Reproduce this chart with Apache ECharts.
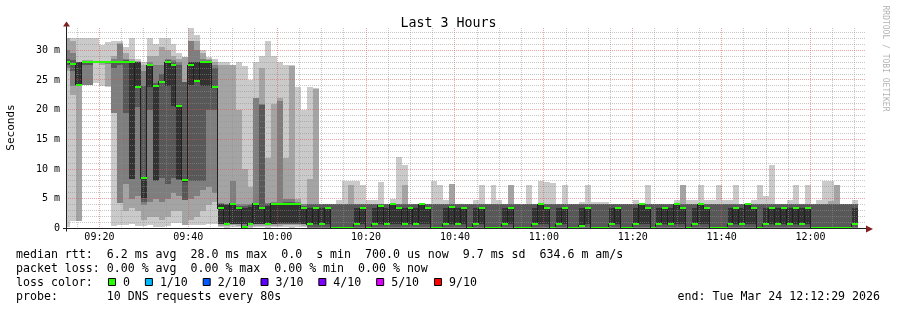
<!DOCTYPE html>
<html>
<head>
<meta charset="utf-8">
<script src="https://cdn.jsdelivr.net/npm/echarts@6/dist/echarts.min.js"></script>
<style>html,body{margin:0;padding:0;background:#fff}#c{width:897px;height:310px}</style>
</head>
<body>
<div id="c"></div>
<script>
// ---------------- data ----------------
const windowStart = '09:12:29';
const windowEnd = '12:12:29';
const firstBinStart = '09:12:00';
const binSeconds = 80;
const yMax = 34;

// ten sorted ping times (ms) per 80 s step, smallest (ping1) to largest (ping10)
const ping1 = [
 0.3,1.2,1.2,24.2,24.2,24.5,24.0,23.9,0.5,0.6,
 0.6,0.8,0.5,0.5,0.6,0.3,0.3,0.5,1.0,1.0,
 0.6,0.6,0.6,0.6,0.8,0.8,0.2,0.1,0.2,0.2,
 0.1,0.1,0.2,0.2,0.1,0.2,0.2,0.3,0.1,0.2,
 0.2,0.05,0.05,0.05,0.05,0.05,0.05,0.05,0.05,0.05,
 0.05,0.05,0.05,0.05,0.05,0.05,0.05,0.05,0.05,0.05,
 0.05,0.05,0.05,0.05,0.05,0.05,0.05,0.05,0.05,0.05,
 0.05,0.05,0.05,0.05,0.05,0.05,0.05,0.05,0.05,0.05,
 0.05,0.05,0.05,0.05,0.05,0.05,0.05,0.05,0.05,0.05,
 0.05,0.05,0.05,0.05,0.05,0.05,0.05,0.05,0.05,0.05,
 0.05,0.05,0.05,0.05,0.05,0.05,0.05,0.05,0.05,0.05,
 0.05,0.05,0.05,0.05,0.05,0.05,0.05,0.05,0.05,0.05,
 0.05,0.05,0.05,0.05,0.05,0.05,0.05,0.05,0.05,0.05,
 0.05,0.05,0.05,0.05
];
const ping2 = [
 26.5,22.5,1.3,24.2,24.2,27.8,27.6,24.0,19.4,4.3,
 3.0,3.5,3.0,1.5,2.0,2.0,1.5,2.0,3.0,3.0,
 0.6,1.5,2.0,3.0,4.0,4.5,0.5,0.5,0.6,0.5,
 0.2,0.3,0.5,0.5,0.4,0.5,0.5,0.6,0.6,0.6,
 0.5,0.1,0.1,0.1,0.1,0.1,0.1,0.1,0.1,0.1,
 0.1,0.1,0.1,0.1,0.1,0.1,0.1,0.1,0.1,0.1,
 0.1,0.1,0.1,0.1,0.1,0.1,0.1,0.1,0.1,0.1,
 0.1,0.1,0.1,0.1,0.1,0.1,0.1,0.1,0.1,0.1,
 0.1,0.1,0.1,0.1,0.1,0.1,0.1,0.1,0.1,0.1,
 0.1,0.1,0.1,0.1,0.1,0.1,0.1,0.1,0.1,0.1,
 0.1,0.1,0.1,0.1,0.1,0.1,0.1,0.1,0.1,0.1,
 0.1,0.1,0.1,0.1,0.1,0.1,0.1,0.1,0.1,0.1,
 0.1,0.1,0.1,0.1,0.1,0.1,0.1,0.1,0.1,0.1,
 0.1,0.1,0.1,0.1
];
const ping3 = [
 27.0,24.0,24.1,24.2,24.2,27.9,27.8,27.7,19.5,4.3,
 7.5,5.0,5.5,4.0,4.5,5.0,4.5,5.0,6.0,5.5,
 4.8,5.0,5.5,6.5,7.0,6.0,0.7,0.7,0.7,0.7,
 0.5,0.6,0.7,0.7,0.6,0.7,0.7,0.7,0.7,0.7,
 0.7,0.15,0.15,0.15,0.15,0.15,0.15,0.15,0.15,0.15,
 0.15,0.15,0.15,0.15,0.15,0.15,0.15,0.15,0.15,0.15,
 0.15,0.15,0.15,0.15,0.15,0.15,0.15,0.15,0.15,0.15,
 0.15,0.15,0.15,0.15,0.15,0.15,0.15,0.15,0.15,0.15,
 0.15,0.15,0.15,0.15,0.15,0.15,0.15,0.15,0.15,0.15,
 0.15,0.15,0.15,0.15,0.15,0.15,0.15,0.15,0.15,0.15,
 0.15,0.15,0.15,0.15,0.15,0.15,0.15,0.15,0.15,0.15,
 0.15,0.15,0.15,0.15,0.15,0.15,0.15,0.15,0.15,0.15,
 0.15,0.15,0.15,0.15,0.15,0.15,0.15,0.15,0.15,0.15,
 0.15,0.15,0.15,0.15
];
const ping4 = [
 27.5,26.5,24.2,27.5,27.5,27.9,27.9,27.8,27.0,27.5,
 19.5,8.3,20.5,4.5,20.0,8.0,8.5,7.5,8.5,8.2,
 4.8,8.0,8.0,8.0,20.0,20.0,0.8,0.8,0.75,0.75,
 0.7,0.7,0.8,0.8,0.8,0.8,0.8,0.8,0.8,0.8,
 0.75,0.2,0.2,0.2,0.2,0.2,0.2,0.2,0.2,0.2,
 0.2,0.2,0.2,0.2,0.2,0.2,0.2,0.2,0.2,0.2,
 0.2,0.2,0.2,0.2,0.2,0.2,0.2,0.2,0.2,0.2,
 0.2,0.2,0.2,0.2,0.2,0.2,0.2,0.2,0.2,0.2,
 0.2,0.2,0.2,0.2,0.2,0.2,0.2,0.2,0.2,0.2,
 0.2,0.2,0.2,0.2,0.2,0.2,0.2,0.2,0.2,0.2,
 0.2,0.2,0.2,0.2,0.2,0.2,0.2,0.2,0.2,0.2,
 0.2,0.2,0.2,0.2,0.2,0.2,0.2,0.2,0.2,0.2,
 0.2,0.2,0.2,0.2,0.2,0.2,0.2,0.2,0.2,0.2,
 0.2,0.2,0.2,0.2
];
const ping5 = [
 27.8,27.5,24.2,27.9,27.9,28.0,28.0,27.9,27.8,27.8,
 27.8,8.4,23.8,5.1,23.9,8.1,24.5,24.0,20.6,8.3,
 7.8,24.2,24.8,24.0,24.0,23.6,0.8,0.8,0.8,0.8,
 0.75,0.8,0.8,0.8,0.8,0.8,0.9,0.9,0.9,0.9,
 0.8,0.75,0.75,0.75,0.75,0.2,0.2,0.2,0.2,0.75,
 0.75,0.2,0.75,0.75,0.75,0.75,0.75,0.75,0.75,0.75,
 0.75,0.75,0.2,0.2,0.75,0.75,0.75,0.75,0.2,0.75,
 0.75,0.2,0.2,0.2,0.75,0.75,0.2,0.2,0.2,0.75,
 0.75,0.75,0.2,0.75,0.75,0.2,0.2,0.5,0.75,0.2,
 0.2,0.2,0.75,0.75,0.2,0.2,0.75,0.75,0.75,0.2,
 0.75,0.75,0.75,0.75,0.75,0.2,0.75,0.75,0.75,0.2,
 0.2,0.2,0.75,0.75,0.75,0.75,0.75,0.2,0.75,0.75,
 0.75,0.75,0.75,0.75,0.75,0.75,0.2,0.2,0.2,0.2,
 0.2,0.2,0.2,0.75
];
const ping6 = [
 28.2,27.9,28.1,28.1,28.1,28.0,28.0,28.1,28.1,28.1,
 28.1,28.1,28.1,8.6,27.5,24.0,24.8,28.1,27.5,20.6,
 8.3,28.0,28.0,28.1,28.1,23.9,4.2,4.0,4.2,3.4,
 3.4,3.6,4.2,3.4,3.8,4.2,4.2,4.2,4.2,4.2,
 3.4,3.4,3.4,3.4,3.4,0.25,0.25,0.25,0.25,3.4,
 3.4,0.25,3.4,3.8,3.4,4.1,3.4,3.4,3.4,3.4,
 4.1,3.4,0.25,0.25,3.4,3.6,3.4,3.4,0.25,3.4,
 3.4,0.25,0.25,0.25,3.4,3.4,0.25,0.25,0.25,3.4,
 4.1,3.4,0.25,3.4,3.4,0.25,0.25,3.4,3.4,0.25,
 0.25,0.25,3.4,3.4,0.25,0.25,3.4,4.1,3.4,0.25,
 3.4,3.4,3.4,4.1,3.4,0.25,3.4,4.1,3.4,0.25,
 0.25,0.25,3.4,3.4,3.4,4.1,3.4,0.25,3.4,3.4,
 3.4,3.4,3.4,3.4,3.4,3.4,0.25,0.25,0.25,0.25,
 0.25,0.25,0.25,3.4
];
const ping7 = [
 28.6,28.3,28.1,28.1,28.1,28.1,28.1,28.1,28.2,28.2,
 28.3,28.1,28.1,24.0,27.6,24.5,26.0,28.3,28.0,27.5,
 24.7,28.0,28.1,28.1,28.1,27.0,4.2,4.2,4.3,3.8,
 3.8,4.0,4.3,20.8,4.2,4.3,4.3,4.4,4.4,4.3,
 3.8,4.15,4.15,4.15,4.15,4.15,4.15,4.15,4.15,4.15,
 4.15,4.15,4.15,4.15,4.15,4.15,4.15,4.15,4.15,4.15,
 4.15,4.15,4.15,4.15,4.15,4.15,4.15,4.15,4.15,4.15,
 4.15,4.15,4.15,4.15,4.15,4.15,4.15,4.15,4.15,4.15,
 4.15,4.15,4.15,4.15,4.15,4.15,4.15,4.15,4.15,4.15,
 4.15,4.15,4.15,4.15,4.15,4.15,4.15,4.15,4.15,4.15,
 4.15,4.15,4.15,4.15,4.15,4.15,4.15,4.15,4.15,4.15,
 4.15,4.15,4.15,4.15,4.15,4.15,4.15,4.15,4.15,4.15,
 4.15,4.15,4.15,4.15,4.15,4.15,4.15,4.15,4.15,4.15,
 4.15,4.15,4.15,4.15
];
const ping8 = [
 30.0,29.5,28.1,28.2,28.2,28.1,28.1,28.1,28.5,31.0,
 28.5,28.2,28.1,26.5,28.0,27.5,27.5,28.5,28.3,28.1,
 24.7,31.5,30.0,28.5,28.3,27.5,4.3,4.2,8.0,4.2,
 4.2,4.2,21.9,21.0,4.3,4.5,21.4,5.0,5.0,4.5,
 4.2,4.2,4.2,4.2,4.2,4.2,4.2,4.2,4.2,4.2,
 4.2,4.2,4.2,4.2,4.2,4.2,4.2,4.2,4.2,4.2,
 4.2,4.2,4.2,4.2,4.2,4.2,4.2,4.2,4.2,4.2,
 4.2,4.2,4.2,4.2,4.2,4.2,4.2,4.2,4.2,4.2,
 4.2,4.2,4.2,4.2,4.2,4.2,4.2,4.2,4.2,4.2,
 4.2,4.2,4.2,4.2,4.2,4.2,4.2,4.2,4.2,4.2,
 4.2,4.2,4.2,4.2,4.2,4.2,4.2,4.2,4.2,4.2,
 4.2,4.2,4.2,4.2,4.2,4.2,4.2,4.2,4.2,4.2,
 4.2,4.2,4.2,4.2,4.2,4.2,4.2,4.2,4.2,4.2,
 4.2,4.2,4.2,4.2
];
const ping9 = [
 32.0,31.5,28.1,28.3,28.3,28.2,28.2,28.2,29.0,31.3,
 29.5,28.5,28.2,27.5,29.0,29.0,30.5,30.0,29.0,28.5,
 28.9,31.5,31.5,29.5,28.5,28.0,27.5,27.5,27.5,20.0,
 10.0,7.0,22.0,27.0,11.8,21.0,22.0,11.8,27.3,5.0,
 4.2,8.3,23.5,4.2,4.2,4.2,4.2,4.2,7.3,4.2,
 4.2,4.2,4.2,4.2,4.2,4.2,4.2,7.3,4.2,4.2,
 4.2,4.2,4.2,4.2,4.2,7.5,4.2,4.2,4.2,4.2,
 4.2,4.2,4.2,4.2,4.2,7.3,4.2,4.2,4.2,4.2,
 4.2,4.2,4.2,4.2,4.2,4.2,4.2,4.2,4.2,4.2,
 4.2,4.2,4.2,4.2,4.2,4.2,4.2,4.2,4.2,4.2,
 4.2,4.2,4.2,4.2,7.3,4.2,4.2,4.2,4.2,4.2,
 4.2,4.2,4.2,4.2,4.2,4.2,4.2,4.2,4.2,4.2,
 4.2,4.2,4.2,4.2,4.2,4.2,4.2,4.2,4.2,4.6,
 7.3,4.2,4.2,4.2
];
const ping10 = [
 32.0,32.0,32.0,32.0,32.0,32.0,30.9,31.4,31.5,31.5,
 30.5,32.0,28.5,28.0,32.0,31.0,32.0,32.0,31.0,29.5,
 28.9,33.7,32.5,30.0,28.9,28.5,28.1,28.1,27.5,28.1,
 27.3,25.0,28.1,29.0,31.5,29.0,28.1,27.5,27.5,23.9,
 20.0,23.9,23.6,4.2,4.2,4.2,4.8,8.0,8.0,8.0,
 7.3,4.8,4.8,7.9,4.2,4.9,12.1,10.7,4.2,4.2,
 4.2,4.2,8.0,7.3,4.8,7.5,4.2,4.2,4.2,4.8,
 7.3,4.2,7.3,4.8,4.2,7.3,4.2,4.2,7.3,4.2,
 8.0,7.9,7.7,4.2,7.3,4.2,4.2,4.5,7.3,4.5,
 4.4,4.4,4.2,4.2,4.2,4.2,4.8,4.2,7.3,4.2,
 4.2,4.2,4.2,4.8,7.3,4.8,4.8,7.3,4.8,4.8,
 7.3,4.8,4.8,7.3,4.2,4.2,4.8,7.3,5.5,10.7,
 4.2,4.2,4.8,7.3,4.2,7.3,4.2,4.8,8.0,8.0,
 7.3,4.2,4.2,4.8
];
// median rtt per step (ms)
const medianRtt = [
 28.0,27.7,24.2,28.0,28.0,28.0,28.0,28.0,28.0,28.0,
 28.0,28.0,23.8,8.5,27.5,24.0,24.7,28.0,27.5,20.6,
 8.2,27.5,24.8,28.0,28.0,23.8,3.4,0.8,4.2,3.4,
 0.2,0.8,4.2,3.4,0.8,4.2,4.2,4.2,4.2,4.2,
 3.4,0.75,3.4,0.75,3.4,0.1,0.1,0.1,0.1,0.75,
 3.4,0.1,0.75,3.8,0.75,4.1,3.4,0.75,3.4,0.75,
 4.1,3.4,0.1,0.1,0.75,3.6,0.75,3.4,0.1,0.75,
 3.4,0.1,0.1,0.1,0.75,3.4,0.1,0.1,0.1,0.75,
 4.1,3.4,0.1,0.75,3.4,0.1,0.1,0.5,3.4,0.1,
 0.1,0.1,0.75,3.4,0.1,0.1,0.75,4.1,3.4,0.1,
 0.75,3.4,0.75,4.1,3.4,0.1,0.75,4.1,3.4,0.1,
 0.1,0.1,0.75,3.4,0.75,4.1,3.4,0.1,0.75,3.4,
 0.75,3.4,0.75,3.4,0.75,3.4,0.1,0.1,0.1,0.1,
 0.1,0.1,0.1,0.75
];

// axis ticks / labels
const majorTimeTicks = ['09:20','09:40','10:00','10:20','10:40','11:00','11:20','11:40','12:00'];
const minorTimeTicks = ['09:15','09:25','09:30','09:35','09:45','09:50','09:55','10:05','10:10','10:15',
  '10:25','10:30','10:35','10:45','10:50','10:55','11:05','11:10','11:15','11:25','11:30','11:35',
  '11:45','11:50','11:55','12:05','12:10'];
const yLabelValues = [0,5,10,15,20,25,30];
const yMajorGrid = [5,10,15,20,25,30];
const yMinorGrid = [1,2,3,4,6,7,8,9,11,12,13,14,16,17,18,19,21,22,23,24,26,27,28,29,31,32,33];

// texts
const chartTitle = 'Last 3 Hours';
const yTitle = 'Seconds';
const watermark = 'RRDTOOL / TOBI OETIKER';
const statLine1 = 'median rtt:  6.2 ms avg  28.0 ms max  0.0  s min  700.0 us now  9.7 ms sd  634.6 m am/s';
const statLine2 = 'packet loss: 0.00 % avg  0.00 % max  0.00 % min  0.00 % now';
const lossTitle = 'loss color:';
const lossLabels = ['0','1/10','2/10','3/10','4/10','5/10','9/10'];
const lossColors = ['#26ff00','#00b8ff','#0059ff','#5e00ff','#7e00ff','#dd00ff','#ff0000'];
const probeLine = 'probe:       10 DNS requests every 80s';
const endLine = 'end: Tue Mar 24 12:12:29 2026';

// ---------------- chart ----------------
const MONO = '"DejaVu Sans Mono", monospace';
const toSec = s => { const p = s.split(':').map(Number); return p[0]*3600 + p[1]*60 + (p[2] || 0); };
const tMin = toSec(windowStart), tMax = toSec(windowEnd), t0 = toSec(firstBinStart);
const pings = [ping1,ping2,ping3,ping4,ping5,ping6,ping7,ping8,ping9,ping10];
const nCols = medianRtt.length;
const smokeColors = ['#cacaca','#a4a4a4','#7e7e7e','#585858','#323232'];
const pad2 = n => (n < 10 ? '0' : '') + n;
const fmtTime = v => pad2(Math.floor(v/3600)) + ':' + pad2(Math.floor((v % 3600)/60));

const smokeSeries = smokeColors.map((color, b) => {
  const lo = pings[b], hi = pings[9 - b];
  const data = [];
  for (let j = 0; j < nCols; j++) data.push([t0 + j*binSeconds, t0 + (j+1)*binSeconds, lo[j], hi[j]]);
  return {
    type: 'custom', z: 2, clip: true, silent: true, animation: false, data,
    renderItem: (params, api) => {
      const a = api.coord([api.value(0), api.value(3)]);
      const c = api.coord([api.value(1), api.value(2)]);
      const x0 = Math.round(a[0]), x1 = Math.round(c[0]);
      const y0 = Math.round(a[1]), y1 = Math.round(c[1]);
      if (y1 - y0 <= 0) return null;
      return { type: 'rect', shape: { x: x0, y: y0, width: x1 - x0, height: y1 - y0 }, style: { fill: color } };
    }
  };
});

const medData = [];
for (let j = 0; j < nCols; j++) {
  const next = j + 1 < nCols ? medianRtt[j+1] : medianRtt[j];
  medData.push([t0 + j*binSeconds, t0 + (j+1)*binSeconds, medianRtt[j], next]);
}
const medianLine = {
  type: 'custom', z: 4, clip: true, silent: true, animation: false, data: medData,
  renderItem: (params, api) => {
    const a = api.coord([api.value(0), api.value(2)]);
    const c = api.coord([api.value(1), api.value(3)]);
    const x0 = Math.round(a[0]), x1 = Math.round(c[0]);
    const ya = Math.floor(a[1]), yb = Math.floor(c[1]);
    return { type: 'group', children: [
      { type: 'rect', shape: { x: x0, y: ya, width: x1 - x0, height: 1 }, style: { fill: '#202020' } },
      { type: 'rect', shape: { x: x1 - 1, y: Math.min(ya, yb), width: 1, height: Math.abs(ya - yb) + 1 }, style: { fill: '#202020' } }
    ]};
  }
};
const medianLoss = {
  type: 'custom', z: 5, clip: true, silent: true, animation: false, data: medData,
  renderItem: (params, api) => {
    const a = api.coord([api.value(0), api.value(2)]);
    const c = api.coord([api.value(1), api.value(2)]);
    const x0 = Math.round(a[0]), x1 = Math.round(c[0]);
    const y = Math.round(a[1]) - 1;
    return { type: 'rect', shape: { x: x0, y: y, width: x1 - x0, height: 2 }, style: { fill: lossColors[0] } };
  }
};

const GRID_MINOR = 'rgba(143,143,143,0.5)';
const GRID_MAJOR = 'rgba(222,79,79,0.5)';
const vGridData = minorTimeTicks.map(s => [toSec(s), 0]).concat(majorTimeTicks.map(s => [toSec(s), 1]));
const hGridData = yMinorGrid.map(v => [v, 0]).concat(yMajorGrid.map(v => [v, 1]));
const vGrid = {
  type: 'custom', z: 3, silent: true, animation: false, data: vGridData,
  renderItem: (params, api) => {
    const p0 = api.coord([api.value(0), 0]);
    const p1 = api.coord([api.value(0), yMax]);
    const x = Math.floor(p0[0]) + 0.5;
    return { type: 'line', shape: { x1: x, y1: Math.round(p0[1]), x2: x, y2: Math.round(p1[1]) },
      style: { stroke: api.value(1) ? GRID_MAJOR : GRID_MINOR, lineWidth: 1, lineDash: [1, 1] } };
  }
};
const hGrid = {
  type: 'custom', z: 3, silent: true, animation: false, data: hGridData,
  renderItem: (params, api) => {
    const p0 = api.coord([tMin, api.value(0)]);
    const p1 = api.coord([tMax, api.value(0)]);
    const y = Math.floor(p0[1]) + 0.5;
    return { type: 'line', shape: { x1: Math.round(p0[0]), y1: y, x2: Math.round(p1[0]), y2: y },
      style: { stroke: api.value(1) ? GRID_MAJOR : GRID_MINOR, lineWidth: 1, lineDash: [1, 1] } };
  }
};

const chart = echarts.init(document.getElementById('c'), null, { renderer: 'canvas', width: 897, height: 310 });
const option = {
  animation: false,
  backgroundColor: '#ffffff',
  textStyle: { fontFamily: MONO },
  title: { text: chartTitle, left: 'center', top: 12,
    textStyle: { fontFamily: MONO, fontSize: 13.3, fontWeight: 'normal', color: '#000' } },
  grid: { left: 66, right: 31, top: 26.5, bottom: 81.5, containLabel: false },
  xAxis: {
    type: 'value', min: tMin, max: tMax, z: 10,
    axisLine: { show: true, lineStyle: { color: '#1f1f1f', width: 1 } },
    axisTick: { show: false }, splitLine: { show: false },
    axisLabel: { customValues: majorTimeTicks.map(toSec), formatter: v => fmtTime(v),
      fontFamily: MONO, fontSize: 10, color: '#000', margin: 4 }
  },
  yAxis: {
    type: 'value', min: 0, max: yMax, z: 10,
    axisLine: { show: true, lineStyle: { color: '#1f1f1f', width: 1 } },
    axisTick: { show: false }, splitLine: { show: false },
    axisLabel: { customValues: yLabelValues, formatter: v => (v === 0 ? '0' : v + ' m'),
      fontFamily: MONO, fontSize: 10, color: '#000', margin: 6 }
  },
  series: smokeSeries.concat([vGrid, hGrid, medianLine, medianLoss])
};
chart.setOption(option);

// decorations: arrows, legend block, titles
const org = chart.convertToPixel({ gridIndex: 0 }, [tMin, 0]);
const corner = chart.convertToPixel({ gridIndex: 0 }, [tMax, yMax]);
const ARROW = '#801f1f';
const LEG = 11.6;
const lineY = [255, 269, 283, 297];
const g = [];
g.push({ type: 'polygon', shape: { points: [[org[0] - 3, corner[1]], [org[0] + 4, corner[1]], [org[0] + 0.5, corner[1] - 5]] }, style: { fill: ARROW }, z: 20 });
g.push({ type: 'polygon', shape: { points: [[corner[0], org[1] - 3], [corner[0], org[1] + 4], [corner[0] + 7, org[1] + 0.5]] }, style: { fill: ARROW }, z: 20 });
g.push({ type: 'line', shape: { x1: org[0] - 3, y1: Math.floor(org[1]) + 0.5, x2: org[0], y2: Math.floor(org[1]) + 0.5 }, style: { stroke: '#1f1f1f', lineWidth: 1 }, z: 20 });
g.push({ type: 'line', shape: { x1: Math.floor(org[0]) + 0.5, y1: org[1], x2: Math.floor(org[0]) + 0.5, y2: org[1] + 3 }, style: { stroke: '#1f1f1f', lineWidth: 1 }, z: 20 });
g.push({ type: 'text', x: 11, y: (org[1] + corner[1]) / 2, rotation: Math.PI / 2,
  style: { text: yTitle, fontFamily: MONO, fontSize: 11, fill: '#000', align: 'center', verticalAlign: 'middle' } });
g.push({ type: 'text', x: 885.5, y: 58.5, rotation: -Math.PI / 2,
  style: { text: watermark, fontFamily: MONO, fontSize: 8, fill: '#b4b4b4', align: 'center', verticalAlign: 'middle' } });
[statLine1, statLine2, lossTitle, probeLine].forEach((t, i) => {
  g.push({ type: 'text', x: 16, y: lineY[i], style: { text: t, fontFamily: MONO, fontSize: LEG, fill: '#000', align: 'left', verticalAlign: 'middle' } });
});
g.push({ type: 'text', x: 880, y: lineY[3], style: { text: endLine, fontFamily: MONO, fontSize: LEG, fill: '#000', align: 'right', verticalAlign: 'middle' } });
let sx = 108;
lossLabels.forEach((lab, i) => {
  g.push({ type: 'rect', shape: { x: sx + 0.5, y: lineY[2] - 4.5, width: 7, height: 7 }, style: { fill: lossColors[i], stroke: '#000', lineWidth: 1 } });
  g.push({ type: 'text', x: sx + 15, y: lineY[2], style: { text: lab, fontFamily: MONO, fontSize: LEG, fill: '#000', align: 'left', verticalAlign: 'middle' } });
  sx += 15 + lab.length * 6.98 + 14.9;
});
chart.setOption({ graphic: g });
</script>
</body>
</html>
